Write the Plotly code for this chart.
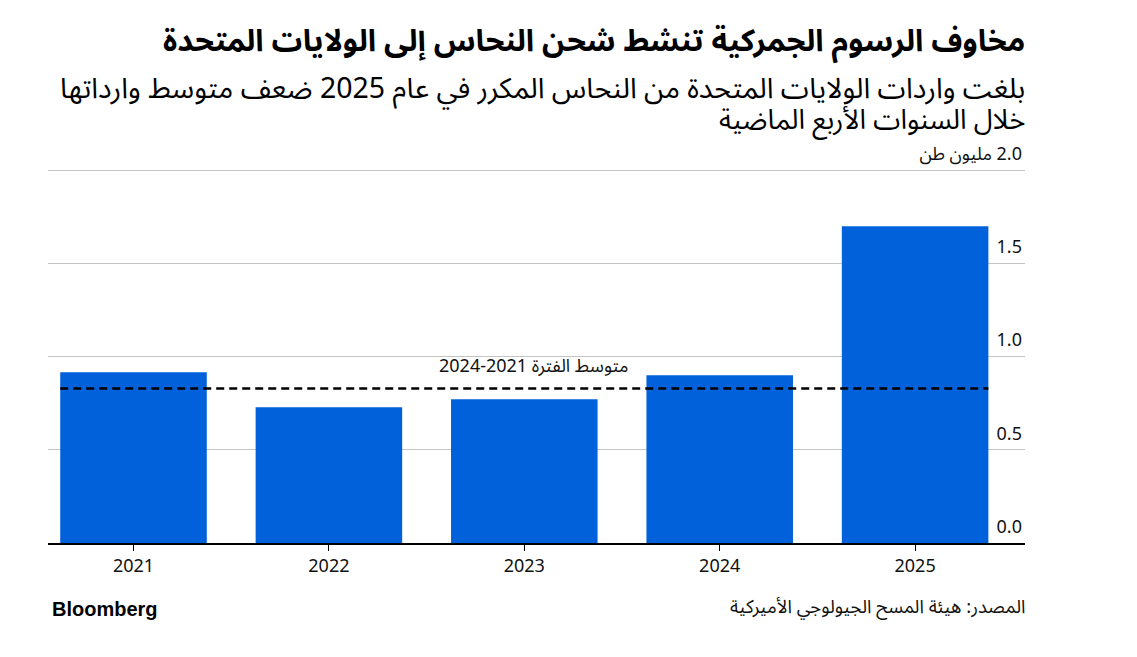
import plotly.graph_objects as go

# ---- data ----
years = ["2021", "2022", "2023", "2024", "2025"]
imports_mt = [0.917, 0.729, 0.772, 0.900, 1.700]   # million tonnes
y_tickvals = [0, 0.5, 1.0, 1.5, 2.0]
y_ticktext = ["0.0", "0.5", "1.0", "1.5", "\u202B2.0 مليون طن\u202C"]
avg_label = "متوسط الفترة 2021-2024"
title_text = "مخاوف الرسوم الجمركية تنشط شحن النحاس إلى الولايات المتحدة"
subtitle_1 = "بلغت واردات الولايات المتحدة من النحاس المكرر في عام 2025 ضعف متوسط وارداتها"
subtitle_2 = "خلال السنوات الأربع الماضية"
source_text = "المصدر: هيئة المسح الجيولوجي الأميركية"
brand_text = "Bloomberg"

# ---- derived ----
avg_years = imports_mt[:4]
avg_val = sum(avg_years) / len(avg_years)
xs = list(range(len(years)))
bar_w = 0.75

Y_TOP = 2.26          # axis top, leaves room for the top label above the 2.0 gridline
PX_PER_UNIT = 186.5
OFF = 8  # page body margin
W, H = 1137 - 2 * OFF, 657 - 2 * OFF
B_page = 543
T_page = B_page - Y_TOP * PX_PER_UNIT
L, R, T, B = 48 - OFF, 1025 - OFF, T_page - OFF, B_page - OFF
def py(p):  # page pixel y -> paper y
    return (B - (p - OFF)) / (B - T)
def px(p):
    return ((p - OFF) - L) / (R - L)

AR = "Noto Sans Arabic, Noto Kufi Arabic, DejaVu Sans, sans-serif"
BLUE = "#0061db"
c0, step = 133.5 - OFF, 195.4

fig = go.Figure()
fig.add_trace(go.Bar(x=xs, y=imports_mt, width=bar_w, marker=dict(color=BLUE, line=dict(width=0)),
                     hoverinfo="skip"))
fig.add_trace(go.Scatter(x=[xs[0] - bar_w / 2, xs[-1] + bar_w / 2], y=[avg_val, avg_val],
                         mode="lines", line=dict(color="black", width=2.5, dash="8px,5px"),
                         hoverinfo="skip"))

fig.add_annotation(x=2.05, y=avg_val, xref="x", yref="y", text=avg_label, showarrow=False,
                   xanchor="center", yanchor="bottom", yshift=1,
                   font=dict(family=AR, size=18, color="#111"))

fig.add_annotation(x=px(1027), y=py(41), xref="paper", yref="paper", text="<b>" + title_text + "</b>",
                   showarrow=False, xanchor="right", yanchor="middle",
                   font=dict(family=AR, size=30.5, color="#000"))
fig.add_annotation(x=px(1027), y=py(88), xref="paper", yref="paper", text=subtitle_1,
                   showarrow=False, xanchor="right", yanchor="middle",
                   font=dict(family=AR, size=28.5, color="#000"))
fig.add_annotation(x=px(1027), y=py(120), xref="paper", yref="paper", text=subtitle_2,
                   showarrow=False, xanchor="right", yanchor="middle",
                   font=dict(family=AR, size=27.5, color="#000"))
fig.add_annotation(x=px(1027), y=py(608), xref="paper", yref="paper", text=source_text,
                   showarrow=False, xanchor="right", yanchor="middle",
                   font=dict(family=AR, size=18.5, color="#111"))
fig.add_annotation(x=px(50), y=py(609), xref="paper", yref="paper",
                   text="<b>" + brand_text + "</b>", showarrow=False, xanchor="left", yanchor="middle",
                   font=dict(family="Liberation Sans, Arial, sans-serif", size=20, color="#000"))

fig.update_layout(
    width=W, height=H,
    margin=dict(l=L, r=W - R, t=T, b=H - B, pad=0),
    paper_bgcolor="white", plot_bgcolor="white",
    showlegend=False,
    xaxis=dict(range=[(L - c0) / step, (R - c0) / step], tickvals=xs, ticktext=years,
               showgrid=False, zeroline=False, showline=True, linecolor="black", linewidth=1.5,
               ticks="outside", ticklen=6, tickcolor="black", tickwidth=1,
               tickfont=dict(family="Noto Sans, DejaVu Sans, sans-serif", size=18, color="#111"),
               fixedrange=True),
    yaxis=dict(range=[0, Y_TOP], side="right", tickvals=y_tickvals, ticktext=y_ticktext,
               ticklabelposition="inside top", ticklabelshift=-4, showgrid=True, gridcolor="#c4c4c4",
               gridwidth=1.3, zeroline=False, showline=False, ticks="",
               tickfont=dict(family="Noto Sans, Noto Sans Arabic, DejaVu Sans, sans-serif", size=18, color="#111"),
               fixedrange=True),
)

fig.write_html("out.html")
